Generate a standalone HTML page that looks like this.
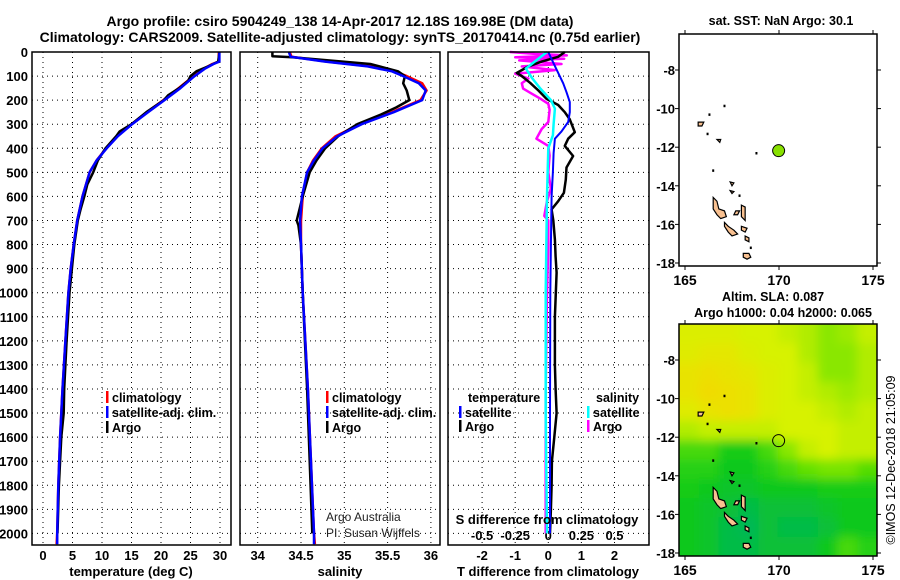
<!DOCTYPE html>
<html><head><meta charset="utf-8"><style>
body{margin:0;background:#fff;}
svg{display:block;font-family:"Liberation Sans",sans-serif;}
.b{font-weight:bold;}
</style></head><body>
<svg id="c" width="900" height="580" viewBox="0 0 900 580">
<defs><filter id="blur" x="-10%" y="-10%" width="120%" height="120%"><feGaussianBlur stdDeviation="5"/></filter></defs>
<text x="340" y="26" text-anchor="middle" class="b" font-size="14">Argo profile: csiro 5904249_138 14-Apr-2017 12.18S 169.98E (DM data)</text>
<text x="340" y="42" text-anchor="middle" class="b" font-size="14">Climatology: CARS2009. Satellite-adjusted climatology: synTS_20170414.nc (0.75d earlier)</text>
<g id="g"></g>
</svg>
<script>
// ---- data ----
const depthTicks=[0,100,200,300,400,500,600,700,800,900,1000,1100,1200,1300,1400,1500,1600,1700,1800,1900,2000];
const tempTicks=[0,5,10,15,20,25,30];
const salTicks=[34,34.5,35,35.5,36];
const tdiffTicks=[-2,-1,0,1,2];
const sdiffTickLabels=["-0.5","-0.25","0","0.25","0.5"];
const sdiffTicks=[-0.5,-0.25,0,0.25,0.5];
const tClimDepth=[0,40,50,70,100,150,200,250,300,350,400,450,500,600,700,800,900,1000,1200,1400,1600,1800,2000,2045];
const tClim=[29.8,29.8,28.7,27.2,25.5,23,20.4,17.6,15,12.6,10.7,9.1,7.9,6.7,5.8,5.2,4.7,4.3,3.8,3.3,2.9,2.6,2.4,2.3];
const tSat=[29.9,29.9,28.9,27.4,25.7,23.3,20.6,17.8,15.1,12.7,10.8,9.1,7.9,6.7,5.8,5.2,4.7,4.3,3.8,3.3,2.9,2.6,2.4,2.4];
const tArgoDepth=[0,40,60,80,100,120,150,180,200,250,300,330,350,400,450,500,550,600,650,700,800,900,1000,1200,1400,1500,1600,1800,2000];
const tArgo=[29.9,29.7,28,26,25,24.6,23.1,21.2,20.5,17.5,15,13,12.4,10.6,9.3,8.5,7.5,7,6.4,5.9,5.3,4.9,4.5,4,3.6,3.5,3.1,2.7,2.45];
const sClimDepth=[0,20,40,60,80,100,130,160,200,250,300,350,400,450,500,600,700,800,1000,1400,2000,2045];
const sClim=[34.37,34.39,34.8,35.3,35.58,35.72,35.9,35.95,35.88,35.55,35.18,34.9,34.74,34.64,34.57,34.52,34.5,34.5,34.52,34.58,34.65,34.66];
const sSat=[34.36,34.38,34.78,35.27,35.55,35.68,35.86,35.94,35.9,35.57,35.2,34.92,34.75,34.65,34.57,34.51,34.49,34.5,34.52,34.58,34.65,34.65];
const sArgoDepth=[0,18,22,50,80,100,130,160,200,230,260,300,350,400,450,500,600,700,720,800,1000,1400,2000];
const sArgo=[34.17,34.17,34.4,35.3,35.62,35.7,35.68,35.72,35.75,35.6,35.42,35.15,34.93,34.78,34.68,34.6,34.52,34.45,34.47,34.5,34.52,34.57,34.63];
const dArgoDepth=[0,20,40,60,87,100,128,160,195,220,250,280,333,360,390,432,480,530,585,620,654,700,779,850,917,1100,1300,1400,1500,1600,1700,1800,1900,2000];
const dArgoT=[0.5,0.3,-0.2,-0.6,-0.95,-0.8,-0.55,-0.3,-0.05,0.3,0.5,0.65,0.8,0.6,0.5,0.75,0.55,0.53,0.47,0.3,0.1,0.15,0.2,0.22,0.25,0.2,0.2,0.22,0.25,0.18,0.11,0.1,0.08,0.05];
const dSatDepth=[0,30,87,130,167,208,250,291,330,360,420,498,600,800,1000,1500,2000];
const dSatT=[0,0.1,0.3,0.45,0.55,0.65,0.65,0.6,0.4,0.2,0.16,0.14,0.1,0.08,0.06,0.05,0.05];
const dSatSDepth=[0,30,69,110,152,200,235,300,346,400,600,1000,1500,2000];
const dSatS=[-0.01,-0.08,-0.17,-0.12,-0.06,0.02,0.05,0.04,0.035,0.0,-0.01,-0.02,-0.02,-0.01];
const dArgoSDepth=[0,8,14,22,28,35,50,60,75,90,110,130,152,175,194,215,240,291,320,360,390,430,500,567,620,681,700,800,1000,1400,1600,2000];
const dArgoS=[-0.29,-0.1,0.14,-0.25,0.12,-0.22,0.1,-0.2,0.05,-0.25,-0.15,-0.2,-0.19,-0.12,-0.06,0.0,0.01,0.0,-0.05,-0.09,0.0,0.01,0.0,0.02,-0.01,-0.03,0.0,0.0,-0.01,-0.02,-0.02,-0.02];
// map data
const mapLonTicks=[165,170,175];
const mapLatTicks=[-8,-10,-12,-14,-16,-18];
const argoLon=169.98, argoLat=-12.18;
const slaGrid=[
[.145,.145,.145,.14,.14,.135,.13,.12,.125,.135],
[.15,.155,.155,.145,.14,.14,.13,.12,.12,.13],
[.16,.165,.16,.155,.145,.14,.135,.12,.12,.13],
[.16,.17,.165,.16,.145,.14,.135,.13,.125,.13],
[.15,.16,.165,.16,.145,.14,.14,.135,.13,.135],
[.13,.135,.135,.135,.135,.14,.14,.14,.135,.135],
[.10,.10,.085,.085,.10,.12,.135,.14,.135,.135],
[.09,.09,.08,.08,.09,.10,.11,.115,.115,.105],
[.085,.08,.075,.075,.08,.08,.08,.085,.085,.085],
[.08,.075,.07,.065,.07,.07,.07,.075,.08,.08],
[.08,.075,.065,.06,.07,.065,.065,.07,.08,.08],
[.08,.075,.065,.065,.07,.07,.07,.08,.10,.09]];
const islands=[
[[166.5,-14.6],[166.7,-14.8],[166.8,-15.2],[167.1,-15.3],[167.2,-15.6],[166.9,-15.7],[166.7,-15.5],[166.5,-15.2]],
[[167.1,-15.9],[167.3,-16.1],[167.6,-16.3],[167.8,-16.5],[167.5,-16.6],[167.3,-16.4],[167.1,-16.1]],
[[168.1,-17.5],[168.4,-17.5],[168.5,-17.7],[168.3,-17.8],[168.1,-17.7]],
[[168.0,-15.0],[168.2,-15.1],[168.2,-15.8],[168.0,-15.6]],
[[168.0,-16.1],[168.3,-16.2],[168.2,-16.4],[168.0,-16.3]],
[[167.7,-15.3],[167.9,-15.3],[167.8,-15.5],[167.6,-15.5]],
[[165.7,-10.7],[166.0,-10.7],[165.9,-10.9],[165.7,-10.9]],
[[166.7,-11.6],[166.9,-11.6],[166.85,-11.75]],
[[167.4,-13.8],[167.6,-13.85],[167.5,-14.0]],
[[167.4,-14.25],[167.6,-14.3],[167.5,-14.4]],
[[168.2,-16.6],[168.4,-16.7],[168.4,-16.9],[168.2,-16.8]]];
const islets=[[166.2,-11.3],[166.3,-10.3],[167.1,-9.85],[166.5,-13.2],[168.8,-12.3],[167.9,-14.5],[168.5,-17.2]];

// ---- drawing ----
const NS="http://www.w3.org/2000/svg";
const G=document.getElementById('g');
function el(t,a,p){const e=document.createElementNS(NS,t);for(const k in a)e.setAttribute(k,a[k]);(p||G).appendChild(e);return e;}
const TOP=52,BOT=545;
const yD=d=>TOP+d*0.2407;
const panels=[{x0:32,x1:231},{x0:240,x1:440},{x0:448,x1:649}];
function xs(p){const z0=[43,257.7,548.3][p],k=[5.9,86.6,33.1][p],o=[0,34,0][p];return v=>z0+(v-o)*k;}
const xT=xs(0),xS=xs(1),xDT=xs(2),xDS=v=>xDT(v*4);
function line(xf,ds,vs,col,name,w){
  const pts=ds.map((d,i)=>xf(vs[i]).toFixed(1)+','+yD(d).toFixed(1)).join(' ');
  const e=el('polyline',{points:pts,fill:'none',stroke:col,'stroke-width':w||2.5,'stroke-linejoin':'round'});
  
  
}
function grid(p,xf,ticks){
  const P=panels[p];
  ticks.forEach(t=>{const x=xf(t);if(x>P.x0+2&&x<P.x1-2)el('line',{x1:x,x2:x,y1:TOP,y2:BOT,stroke:'#000','stroke-width':1,'stroke-dasharray':'1,4'});});
  depthTicks.forEach(d=>{if(d>0)el('line',{x1:P.x0,x2:P.x1,y1:yD(d),y2:yD(d),stroke:'#000','stroke-width':1,'stroke-dasharray':'1,4'});});
}
grid(0,xT,tempTicks);grid(1,xS,salTicks);grid(2,xDT,tdiffTicks);
depthTicks.forEach(d=>{const t=el('text',{x:28,y:yD(d)+5,'text-anchor':'end','font-size':13,class:'b'});t.textContent=d;

});
function xlabels(xf,ticks,labs,y,name){ticks.forEach((v,i)=>{const t=el('text',{x:xf(v),y:y,'text-anchor':'middle','font-size':13,class:'b'});t.textContent=labs?labs[i]:v;

});}
xlabels(xT,tempTicks,null,560,'temperature-tick-label');
xlabels(xS,salTicks,null,560,'salinity-tick-label');
xlabels(xDT,tdiffTicks,null,560,'tdiff-tick-label');
xlabels(xDS,sdiffTicks,sdiffTickLabels,540,'sdiff-tick-label');
line(xT,tClimDepth,tClim,'#f00','temp-climatology-line');
line(xT,tArgoDepth,tArgo,'#000','temp-argo-line');
line(xT,tClimDepth,tSat,'#00f','temp-satellite-line');
line(xS,sClimDepth,sClim,'#f00','sal-climatology-line');
line(xS,sArgoDepth,sArgo,'#000','sal-argo-line');
line(xS,sClimDepth,sSat,'#00f','sal-satellite-line');
line(xDS,dArgoSDepth,dArgoS,'#f0f','sdiff-argo-line');
line(xDT,dArgoDepth,dArgoT,'#000','tdiff-argo-line');
line(xDT,dSatDepth,dSatT,'#00f','tdiff-satellite-line',2);
line(xDS,dSatSDepth,dSatS,'#0ff','sdiff-satellite-line');
panels.forEach((P,i)=>{const r=el('rect',{x:P.x0,y:TOP,width:P.x1-P.x0,height:BOT-TOP,fill:'none',stroke:'#000','stroke-width':1.5});

});
[['temperature (deg C)',131,'temperature-axis-title'],['salinity',340,'salinity-axis-title'],['T difference from climatology',548,'tdiff-axis-title']].forEach(a=>{
const t=el('text',{x:a[1],y:576,'text-anchor':'middle','font-size':13,class:'b'});t.textContent=a[0];

});
function leg(x,y,col,txt,name){if(col)el('rect',{x:x,y:y-11,width:2.5,height:12,fill:col});
const t=el('text',{x:x+6,y:y,'font-size':12.5,class:'b'});t.textContent=txt;

}
[[0,'#f00','climatology'],[1,'#00f','satellite-adj. clim.'],[2,'#000','Argo']].forEach(a=>{
leg(106,402+a[0]*15,a[1],a[2],'legend-entry');leg(326,402+a[0]*15,a[1],a[2],'legend-entry');});
leg(462,402,null,'temperature','legend-header');leg(459,417,'#00f','satellite','legend-entry');leg(459,431,'#000','Argo','legend-entry');
leg(590,402,null,'salinity','legend-header');leg(587,417,'#0ff','satellite','legend-entry');leg(587,431,'#f0f','Argo','legend-entry');
let t=el('text',{x:547,y:524,'text-anchor':'middle','font-size':13,class:'b'});t.textContent='S difference from climatology';


t=el('text',{x:326,y:521,'font-size':12,fill:'#222'});t.textContent='Argo Australia';


t=el('text',{x:326,y:537,'font-size':12,fill:'#222'});t.textContent='PI: Susan Wijffels';



// ---- maps ----
const MX0=679,MX1=877;
const lonX=l=>685+(l-165)*18.8;
function drawMap(top,lat8y,heat,titleLines,name){
  const latY=l=>lat8y+(-8-l)*19.3;
  const bot=top+232;
  const grp=el('g',{});
  
  
  el('clipPath',{id:'cp'+top},grp);
  el('rect',{x:MX0,y:top,width:MX1-MX0,height:bot-top},grp.lastChild);
  const inner=el('g',{'clip-path':'url(#cp'+top+')'},grp);
  if(heat){
    const cols=[[0.05,[0,176,112]],[0.08,[10,200,30]],[0.11,[100,225,0]],[0.14,[215,242,0]],[0.17,[240,220,0]],[0.2,[245,185,0]]];
    const cmap=v=>{for(let i=1;i<cols.length;i++){if(v<=cols[i][0]||i==cols.length-1){const a=cols[i-1],b=cols[i];let f=(v-a[0])/(b[0]-a[0]);f=Math.max(0,Math.min(1,f));return 'rgb('+a[1].map((c,j)=>Math.round(c+(b[1][j]-c)*f)).join(',')+')';}}};
    const hg=el('g',{filter:'url(#blur)'},inner);
    const nr=slaGrid.length,nc=slaGrid[0].length;
    slaGrid.forEach((row,r)=>row.forEach((v,c)=>{
      const lon0=164.68+c*1.053,lat0=-6.13-r*1.003;
      let x=lonX(lon0),y=latY(lat0);
      let w=lonX(lon0+1.053)-x+0.6,h=latY(lat0-1.003)-y+0.6;
      if(c==0){x-=15;w+=15;} if(c==nc-1)w+=15;
      if(r==0){y-=15;h+=15;} if(r==nr-1)h+=15;
      const cell=el('rect',{x:x,y:y,width:w,height:h,fill:cmap(v)},hg);
      
      
    }));
  }
  islands.forEach(poly=>{const p=el('polygon',{points:poly.map(q=>lonX(q[0])+','+latY(q[1])).join(' '),fill:'#f8c090',stroke:'#000','stroke-width':1.2},inner);
    
    });
  islets.forEach(q=>el('rect',{x:lonX(q[0])-1,y:latY(q[1])-1,width:2,height:2.5,fill:'#000'},inner));
  const dot=el('circle',{cx:lonX(argoLon),cy:latY(argoLat),r:6,fill:heat?'none':'#88e000',stroke:'#000','stroke-width':1},grp);
  
  
  el('rect',{x:MX0,y:top,width:MX1-MX0,height:bot-top,fill:'none',stroke:'#000','stroke-width':1.5},grp);
  mapLonTicks.forEach(l=>{const x=lonX(l);el('line',{x1:x,x2:x,y1:top,y2:top-4,stroke:'#000'},grp);el('line',{x1:x,x2:x,y1:bot,y2:bot+4,stroke:'#000'},grp);
    const tt=el('text',{x:x,y:bot+19,'text-anchor':'middle','font-size':14,class:'b'},grp);tt.textContent=l;
    
    });
  mapLatTicks.forEach(l=>{const y=latY(l);el('line',{x1:MX0-4,x2:MX0,y1:y,y2:y,stroke:'#000'},grp);el('line',{x1:MX1,x2:MX1+4,y1:y,y2:y,stroke:'#000'},grp);
    const tt=el('text',{x:675,y:y+5,'text-anchor':'end','font-size':13,class:'b'},grp);tt.textContent=l;
    
    });
  titleLines.forEach((s,i)=>{const tt=el('text',{x:s[1],y:s[2],'text-anchor':'middle','font-size':12.5,class:'b'},grp);tt.textContent=s[0];
    
    });
}
drawMap(34,70,false,[['sat. SST: NaN Argo: 30.1',781,25]],'sst-map');
drawMap(324,360,true,[['Altim. SLA: 0.087',773,301],['Argo h1000: 0.04 h2000: 0.065',783,317]],'sla-map');
t=el('text',{x:0,y:0,transform:'translate(895,460) rotate(-90)','text-anchor':'middle','font-size':12.5});t.textContent='©IMOS 12-Dec-2018 21:05:09';


</script>
</body></html>
